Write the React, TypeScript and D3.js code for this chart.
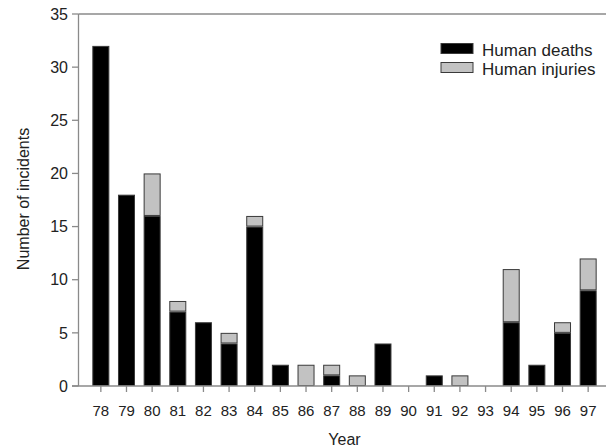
import React from "react";
import { scaleBand, scaleLinear, stack } from "d3";

// data
const years = ["78", "79", "80", "81", "82", "83", "84", "85", "86", "87", "88", "89", "90", "91", "92", "93", "94", "95", "96", "97"];
const deaths = [32, 18, 16, 7, 6, 4, 15, 2, 0, 1, 0, 4, 0, 1, 0, 0, 6, 2, 5, 9];
const injuries = [0, 0, 4, 1, 0, 1, 1, 0, 2, 1, 1, 0, 0, 0, 1, 0, 5, 0, 1, 3];
const yTicks = [0, 5, 10, 15, 20, 25, 30, 35];
const seriesNames = ["Human deaths", "Human injuries"];
const seriesFill = ["#000000", "#c2c2c2"];

const W = 606;
const H = 448;
const font = "'Liberation Sans', Arial, sans-serif";

export default function App() {
  const rows = years.map((y, i) => ({ year: y, deaths: deaths[i], injuries: injuries[i] }));
  const layers = stack<any>().keys(["deaths", "injuries"])(rows);

  const x = scaleBand<string>()
    .domain(years)
    .range([79, 610])
    .paddingInner(0.337)
    .paddingOuter(0.52);

  const y = scaleLinear().domain([0, 35]).range([386, 14]);
  const axisColor = "#8a8a8a";
  const textColor = "#222";

  return (
    <svg width={W} height={H} style={{ position: "absolute", left: 0, top: 0, background: "#fff" }}>
      {/* bars */}
      {layers.map((layer, li) =>
        layer.map((d, i) => {
          const h = y(d[0]) - y(d[1]);
          if (h <= 0) return null;
          return (
            <rect
              key={`${li}-${i}`}
              x={x(years[i])! + 0.5}
              y={y(d[1]) + 0.5}
              width={x.bandwidth() - 1}
              height={h - 1}
              fill={seriesFill[li]}
              stroke="#3a3a3a"
              strokeWidth={1}
            />
          );
        })
      )}

      {/* frame: left axis, top line, baseline */}
      <line x1={78.5} x2={78.5} y1={y(35)} y2={y(0)} stroke={axisColor} strokeWidth={1.3} />
      <line x1={78.5} x2={W} y1={y(35)} y2={y(35)} stroke={axisColor} strokeWidth={1.3} />
      <line x1={72} x2={W} y1={y(0)} y2={y(0)} stroke={axisColor} strokeWidth={1.3} />

      {/* y axis */}
      {yTicks.map((t) => (
        <g key={t} transform={`translate(0,${y(t)})`}>
          <line x1={72} x2={78.5} stroke={axisColor} strokeWidth={1.3} />
          <text x={68} dy="0.36em" textAnchor="end" fontFamily={font} fontSize={16} fill={textColor}>
            {t}
          </text>
        </g>
      ))}

      {/* x axis */}
      {years.map((yr) => {
        const cx = x(yr)! + x.bandwidth() / 2;
        return (
          <g key={yr} transform={`translate(${cx},0)`}>
            <line y1={y(0)} y2={y(0) + 6} stroke={axisColor} strokeWidth={1.3} />
            <text y={415.5} textAnchor="middle" fontFamily={font} fontSize={15} fill={textColor}>
              {yr}
            </text>
          </g>
        );
      })}

      {/* axis titles */}
      <text x={344.5} y={445} textAnchor="middle" fontFamily={font} fontSize={16} fill={textColor}>
        Year
      </text>
      <text
        transform={`translate(29,${(y(0) + y(35)) / 2 - 1}) rotate(-90)`}
        textAnchor="middle"
        fontFamily={font}
        fontSize={16}
        fill={textColor}
      >
        Number of incidents
      </text>

      {/* legend */}
      {seriesNames.map((name, i) => (
        <g key={name} transform={`translate(0,${i * 19})`}>
          <rect x={441} y={43.5} width={32} height={10} fill={seriesFill[i]} stroke="#3a3a3a" strokeWidth={1} />
          <text x={482} y={56} fontFamily={font} fontSize={17} fill={textColor}>
            {name}
          </text>
        </g>
      ))}
    </svg>
  );
}
